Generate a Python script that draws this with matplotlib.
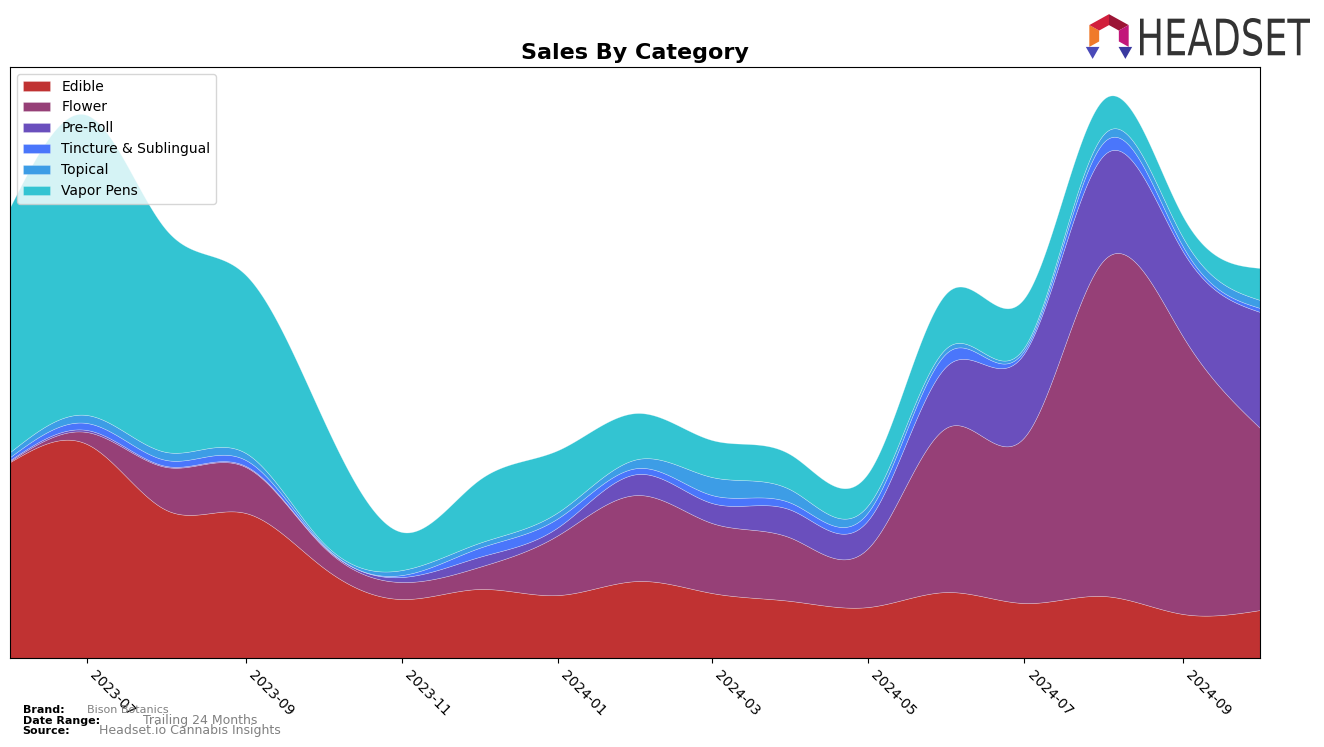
import numpy as np
import matplotlib
matplotlib.use("Agg")
import matplotlib.pyplot as plt
import matplotlib.dates as mdates
import pandas as pd
from matplotlib.patches import Polygon, PathPatch
from matplotlib.textpath import TextPath
from matplotlib.font_manager import FontProperties
from matplotlib.transforms import Affine2D

# monthly sales (arbitrary units)
months = pd.date_range("2023-06-01", "2024-10-01", freq="MS")
edible = [196, 214, 148, 145, 91, 59, 69, 63, 77, 65, 57, 51, 66, 55, 62, 44, 48]
flower = [1, 12, 43, 46, 21, 17, 22, 60, 86, 70, 63, 59, 165, 166, 336, 277, 182]
preroll = [1, 2, 1, 1, 1, 5, 10, 8, 21, 20, 28, 28, 62, 84, 105, 85, 116]
tincture = [3, 7, 6, 6, 1, 2, 9, 9, 6, 8, 7, 8, 13, 3, 13, 5, 4]
topical = [5, 8, 8, 7, 2, 5, 5, 6, 9, 18, 13, 7, 5, 3, 8, 9, 8]
vapor = [245, 300, 222, 178, 124, 38, 63, 62, 46, 37, 35, 32, 55, 49, 35, 21, 32]

labels = ["Edible", "Flower", "Pre-Roll", "Tincture & Sublingual", "Topical", "Vapor Pens"]
colors = ["#c03232", "#964077", "#6a4fbd", "#4a76fb", "#3d9de6", "#33c4d2"]


def natural_spline(x, y, xs):
    x = np.asarray(x, float)
    y = np.asarray(y, float)
    n = len(x)
    h = np.diff(x)
    A = np.zeros((n, n))
    r = np.zeros(n)
    A[0, 0] = 1
    A[-1, -1] = 1
    for i in range(1, n - 1):
        A[i, i - 1] = h[i - 1]
        A[i, i] = 2 * (h[i - 1] + h[i])
        A[i, i + 1] = h[i]
        r[i] = 6 * ((y[i + 1] - y[i]) / h[i] - (y[i] - y[i - 1]) / h[i - 1])
    M = np.linalg.solve(A, r)
    idx = np.clip(np.searchsorted(x, xs) - 1, 0, n - 2)
    x0, x1 = x[idx], x[idx + 1]
    hh = x1 - x0
    a = (x1 - xs) / hh
    b = (xs - x0) / hh
    return (a * y[idx] + b * y[idx + 1]
            + ((a ** 3 - a) * M[idx] + (b ** 3 - b) * M[idx + 1]) * hh ** 2 / 6)


xm = mdates.date2num(months)
xs = np.linspace(xm[0], xm[-1], 800)
series = [edible, flower, preroll, tincture, topical, vapor]
smooth = [np.clip(natural_spline(xm, s, xs), 0, None) for s in series]

fig = plt.figure(figsize=(13.24, 7.47), dpi=100)
ax = fig.add_axes([0.0076, 0.1191, 0.9441, 0.7912])

ax.stackplot(mdates.num2date(xs), *smooth, labels=labels, colors=colors,
             edgecolor="#ffffff66", linewidth=0.4)

ax.set_xlim(months[0], months[-1])
ax.set_ylim(0, 591)
ax.set_yticks([])
ax.xaxis.set_major_locator(mdates.MonthLocator(bymonth=[1, 3, 5, 7, 9, 11]))
ax.xaxis.set_major_formatter(mdates.DateFormatter("%Y-%m"))
plt.setp(ax.get_xticklabels(), rotation=-45, ha="left", fontsize=10)

ax.set_title("Sales By Category", fontsize=16, fontweight="bold", pad=6)
ax.legend(loc="upper left", fontsize=10)

# footer
fig.text(0.017, 0.045, "Brand:", fontsize=8, fontweight="bold")
fig.text(0.066, 0.045, "Bison Botanics", fontsize=8, color="gray")
fig.text(0.017, 0.031, "Date Range:", fontsize=8, fontweight="bold")
fig.text(0.108, 0.031, "Trailing 24 Months", fontsize=9, color="gray")
fig.text(0.017, 0.017, "Source:", fontsize=8, fontweight="bold")
fig.text(0.075, 0.017, "Headset.io Cannabis Insights", fontsize=9, color="gray")

# logo text, squeezed horizontally
tax = fig.add_axes([1140 / 1324, 1 - 56 / 747, 170 / 1324, 38 / 747])
tax.axis("off")
tp = TextPath((0, 0), "HEADSET", size=10, prop=FontProperties(family="DejaVu Sans"))
bb = tp.get_extents()
tr = Affine2D().translate(-bb.x0, -bb.y0).scale(1 / bb.width, 1 / bb.height)
tax.add_patch(PathPatch(tr.transform_path(tp), color="#333333", lw=0))
tax.set_xlim(0, 1)
tax.set_ylim(0, 1)

# logo icon
lax = fig.add_axes([1084 / 1324, 1 - 60 / 747, 50 / 1324, 48 / 747])
lax.set_xlim(-1.1, 1.1)
lax.set_ylim(-1.1, 1.1)
lax.axis("off")
seg_colors = ["#f07a2a", "#d11f3c", "#9c1535", "#c2177a"]
ang = np.deg2rad([210, 150, 90, 30, -30])
ro, ri = 1.0, 0.5
for k in range(4):
    i, j = k, k + 1
    pts = [(ro * np.cos(ang[i]), ro * np.sin(ang[i])), (ro * np.cos(ang[j]), ro * np.sin(ang[j])),
           (ri * np.cos(ang[j]), ri * np.sin(ang[j])), (ri * np.cos(ang[i]), ri * np.sin(ang[i]))]
    lax.add_patch(Polygon(pts, color=seg_colors[k], lw=0))
for cx, col in [(-0.72, "#4a4ab8"), (0.72, "#3a3aa0")]:
    lax.add_patch(Polygon([(cx - 0.3, -0.5), (cx + 0.3, -0.5), (cx, -1.05)], color=col, lw=0))

fig.savefig("out.png", dpi=100)
